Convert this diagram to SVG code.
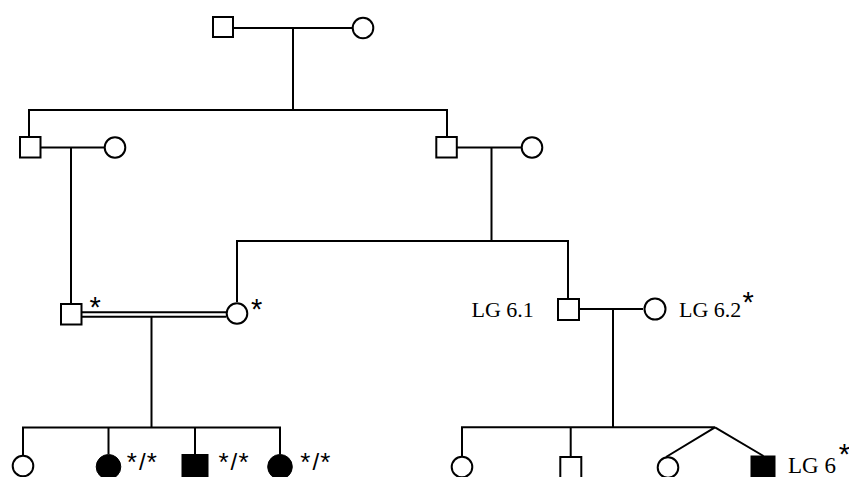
<svg xmlns="http://www.w3.org/2000/svg" width="849" height="477" viewBox="0 0 849 477">
<style>
.ln{stroke:#000;stroke-width:2;fill:none}
.open{fill:#fff;stroke:#000;stroke-width:2}
.aff{fill:#000;stroke:#000;stroke-width:1}
.t{font-family:"Liberation Serif","Times New Roman",serif;font-size:22px;fill:#000}
.st{font-family:"Liberation Sans",Arial,sans-serif;font-size:29px;fill:#000}
.sb{font-family:"Liberation Sans",Arial,sans-serif;font-size:26px;fill:#000}
.sl{font-family:"Liberation Sans",Arial,sans-serif;font-size:24px;fill:#000}
</style>
<rect width="849" height="477" fill="#fff"/>
<g id="connectors">
<path class="ln" d="M234 28H352 M293 28V110 M28 110H448 M29 110V136 M447 110V136"/>
<path class="ln" d="M41 147.5H104 M71 147.5V303"/>
<path class="ln" d="M457 147.5H521 M491.5 147.5V241 M236 241H569 M237 241V302 M568 241V298"/>
<path class="ln" d="M81 312.3H226 M81 316.7H226 M151.5 317V427.5"/>
<path class="ln" d="M22 427.5H281 M23 427.5V455 M108.5 427.5V454 M195 427.5V454 M280 427.5V454"/>
<path class="ln" d="M580 309H643 M613 309V427.3 M461 427.3H715 M462 427.3V456 M570.7 427.3V456 M715 427.3L666 457 M715 427.3L763.5 456"/>
</g>
<g id="gen1-father"><rect class="open" x="213" y="17" width="20" height="20"/></g>
<g id="gen1-mother"><circle class="open" cx="363" cy="28" r="10.3"/></g>
<g id="gen2-left-male"><rect class="open" x="20" y="137" width="20.5" height="20.5"/></g>
<g id="gen2-left-spouse"><circle class="open" cx="115" cy="147.5" r="10.3"/></g>
<g id="gen2-right-male"><rect class="open" x="436.3" y="137" width="20.5" height="20.5"/></g>
<g id="gen2-right-spouse"><circle class="open" cx="532" cy="147.5" r="10.3"/></g>
<g id="gen3-male"><rect class="open" x="61" y="304" width="20.5" height="20.5"/><text class="st" x="89.4" y="316.5">*</text></g>
<g id="gen3-female"><circle class="open" cx="237" cy="313.5" r="10.3"/><text class="st" x="251" y="318.8">*</text></g>
<g id="LG6.1"><rect class="open" x="558" y="299" width="21" height="21"/><text class="t" x="471.5" y="317.3">LG 6.1</text></g>
<g id="LG6.2"><circle class="open" cx="655" cy="309" r="10.5"/><text class="t" x="679" y="317.3">LG 6.2</text><text class="st" x="742.4" y="312.3">*</text></g>
<g id="child1"><circle class="open" cx="23" cy="466" r="10.3"/></g>
<g id="child2"><circle class="aff" cx="108.5" cy="466.8" r="12.3"/><text class="sb" x="126.8" y="471">*</text><text class="sl" x="139" y="469.7">/</text><text class="sb" x="146.8" y="471">*</text></g>
<g id="child3"><rect class="aff" x="182" y="454.5" width="26" height="26"/><text class="sb" x="218.4" y="471">*</text><text class="sl" x="230.6" y="469.7">/</text><text class="sb" x="238.4" y="471">*</text></g>
<g id="child4"><circle class="aff" cx="280" cy="466.8" r="12.3"/><text class="sb" x="300.3" y="471">*</text><text class="sl" x="312.5" y="469.7">/</text><text class="sb" x="320.3" y="471">*</text></g>
<g id="child5"><circle class="open" cx="462" cy="467" r="10.3"/></g>
<g id="child6"><rect class="open" x="560.3" y="457" width="21" height="21"/></g>
<g id="child7"><circle class="open" cx="668" cy="467.5" r="10.3"/></g>
<g id="LG6"><rect class="aff" x="751" y="456" width="24" height="24"/><text class="t" x="788" y="472.5" style="font-size:23px">LG 6</text><text class="st" x="838.7" y="463.8">*</text></g>
</svg>
